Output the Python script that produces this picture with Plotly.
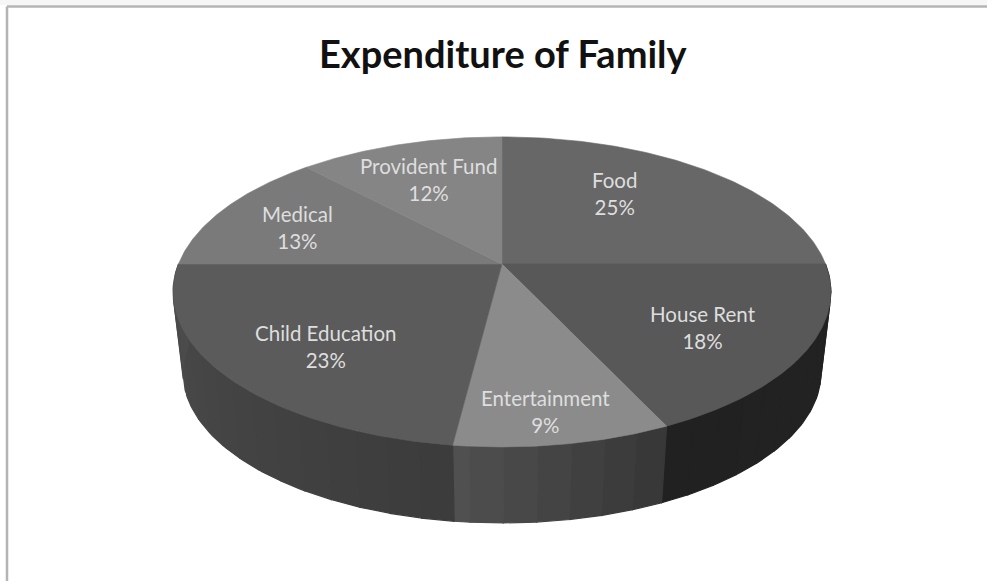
import numpy as np
import plotly.graph_objects as go

# ---- data ----
categories = ["Food", "House Rent", "Entertainment", "Child Education", "Medical", "Provident Fund"]
shares = [25, 18, 9, 23, 13, 12]
title_text = "Expenditure of Family"

# ---- styling ----
top_colors = ["#676767", "#585858", "#8b8b8b", "#5b5b5b", "#7a7a7a", "#858585"]
wall_shades = {"House Rent": (35, 33), "Entertainment": (56, 80), "Child Education": (60, 76)}
label_anchor = {
    "Food": (614, 193), "House Rent": (703, 327), "Entertainment": (545, 411),
    "Child Education": (325, 346), "Medical": (297, 227), "Provident Fund": (428, 179),
}

# perspective disc model (pixel-valued axes)
CX, CY, R, H, K = 502.0, 264.0, 323.5, 150.0, 0.18
SHRINK, DROP = 0.97, 81.5


def rim(theta_deg, lower=False):
    t = np.radians(theta_deg)
    u, v = np.sin(t), np.cos(t)
    s = 1.0 / (1.0 + K * v)
    f, d = (SHRINK, DROP) if lower else (1.0, 0.0)
    return CX + f * R * u * s, CY + d - f * H * v * s


fig = go.Figure()
edges = np.concatenate([[0.0], np.cumsum(shares)]) * 3.6
span = dict(zip(categories, zip(edges[:-1], edges[1:])))

# side walls, drawn first, in bands so that the shading changes along the rim
for name, (shade_a, shade_b) in wall_shades.items():
    a, b = span[name]
    cuts = np.arange(a, b + 5.0, 5.0)
    cuts[-1] = b
    for i in range(len(cuts) - 1):
        th = np.linspace(cuts[i], cuts[i + 1], 6)
        xt, yt = rim(th)
        xb, yb = rim(th[::-1], lower=True)
        g = int(round(shade_a + (shade_b - shade_a) * i / max(len(cuts) - 2, 1)))
        col = f"rgb({g},{g},{g})"
        fig.add_trace(go.Scatter(
            x=np.r_[xt, xb, xt[0]], y=np.r_[yt, yb, yt[0]], mode="lines",
            fill="toself", fillcolor=col, line=dict(color=col, width=1.2),
            hoverinfo="skip", showlegend=False))

# top face slices
for name, val, col, (a, b) in zip(categories, shares, top_colors, zip(edges[:-1], edges[1:])):
    th = np.linspace(a, b, 90)
    x, y = rim(th)
    fig.add_trace(go.Scatter(
        x=np.r_[CX, x, CX], y=np.r_[CY, y, CY], mode="lines", fill="toself",
        fillcolor=col, line=dict(color=col, width=0.6), name=name,
        hovertemplate=f"{name}: {val}%<extra></extra>", showlegend=False))

# slice labels
for name, val in zip(categories, shares):
    ax, ay = label_anchor[name]
    fig.add_annotation(x=ax, y=ay, xref="x", yref="y", text=f"{name}<br>{val}%", showarrow=False,
                       font=dict(family="Lato, Carlito, sans-serif", size=20.5, color="#dedede"),
                       align="center")

fig.add_annotation(x=503, y=53, xref="x", yref="y", text=f"<b>{title_text}</b>", showarrow=False,
                   font=dict(family="Lato, Carlito, sans-serif", size=38, color="#111111"))

# chart frame: only the top and left edges survive in the picture
frame = dict(color="#b4b4b4", width=2.5)
fig.add_shape(type="line", xref="x", yref="y", x0=7, x1=987, y0=6.5, y1=6.5, line=frame)
fig.add_shape(type="line", xref="x", yref="y", x0=7, x1=7, y0=6.5, y1=581, line=frame)
fig.add_shape(type="rect", xref="x", yref="y", x0=0, x1=987, y0=0, y1=5,
              fillcolor="#f6f6f6", line_width=0, layer="below")

fig.update_layout(
    width=987, height=583, margin=dict(l=0, r=0, t=0, b=0),
    paper_bgcolor="white", plot_bgcolor="white", showlegend=False,
    xaxis=dict(range=[0, 987], visible=False, fixedrange=True),
    yaxis=dict(range=[583, 0], visible=False, fixedrange=True),
)
fig.write_html("out.html", config={"displayModeBar": False},
               post_script="document.body.style.margin='0';document.body.style.overflow='hidden';")
